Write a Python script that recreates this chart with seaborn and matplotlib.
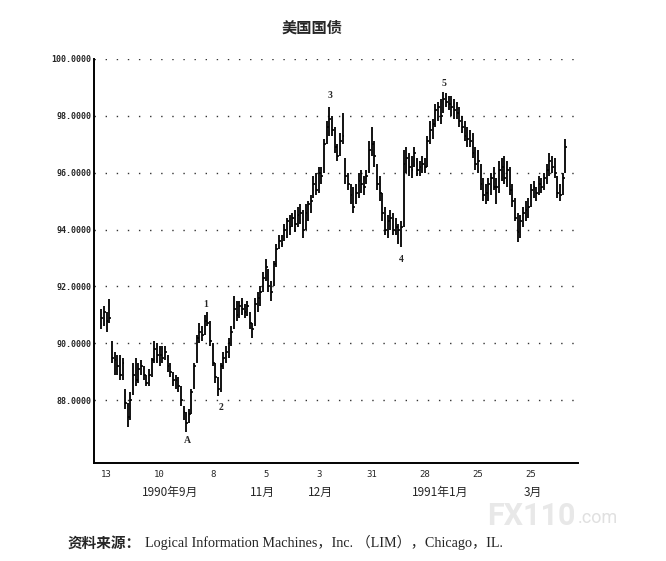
import numpy as np
import pandas as pd
import matplotlib
matplotlib.use("Agg")
import matplotlib.pyplot as plt
import matplotlib.transforms as mtransforms
import seaborn as sns

# daily bars, Aug 1990 - Apr 1991 (trading day index, 0 = Aug 13)
highs = [91.2, 91.3,
         91.1, 91.55, 90.1, 89.7, 89.6,
         89.6, 89.5, 88.4, 87.9, 88.3,
         89.3, 89.5, 89.3, 89.4, 89.2,
         88.9, 89.1, 89.5, 90.1, 90.0,
         89.9, 89.9, 89.9, 89.6, 89.3,
         89.0, 88.9, 88.8, 88.5, 87.8,
         87.6, 87.7, 88.4, 89.3, 90.3,
         90.7, 90.6, 91.0, 91.1, 90.8,
         90.0, 89.3, 88.8, 89.3, 89.7,
         89.9, 90.2, 90.6, 91.65, 91.5,
         91.5, 91.6, 91.4, 91.5, 91.1,
         90.7, 91.6, 91.8, 92.0, 92.5,
         92.95, 92.6, 92.2, 92.9, 93.5,
         93.8, 93.8, 94.2, 94.4, 94.5,
         94.6, 94.7, 94.8, 94.9, 94.7,
         94.9, 95.0, 95.2, 95.9, 96.0,
         96.2, 96.2, 97.2, 97.8, 98.3,
         98.0, 97.6, 97.0, 97.4, 98.1,
         96.5, 96.0, 95.6, 95.5, 95.6,
         96.0, 96.1, 95.9, 96.1, 97.1,
         97.6, 97.1, 96.3, 95.9, 95.3,
         94.8, 94.5, 94.7, 94.6, 94.4,
         94.2, 94.3, 96.8, 96.9, 96.7,
         96.6, 96.9, 96.5, 96.4, 96.6,
         96.5, 97.3, 97.8, 97.9, 98.4,
         98.5, 98.6, 98.85, 98.8, 98.7,
         98.7, 98.6, 98.5, 98.3, 98.0,
         97.8, 97.6, 97.5, 97.4, 96.9,
         96.8, 96.3, 95.8, 95.6, 95.8,
         96.0, 96.2, 95.8, 96.4, 96.5,
         96.6, 96.4, 96.2, 95.6, 95.1,
         94.6, 94.5, 94.8, 95.0, 95.1,
         95.6, 95.7, 95.5, 95.9, 95.8,
         96.0, 96.3, 96.7, 96.6, 96.5,
         95.9, 95.6, 96.0, 97.2]
lows = [90.5, 90.6,
        90.4, 90.7, 89.3, 88.9, 88.9,
        88.7, 88.7, 87.7, 87.05, 87.3,
        88.2, 88.5, 88.6, 88.9, 88.7,
        88.5, 88.5, 88.8, 89.3, 89.3,
        89.2, 89.3, 89.4, 89.0, 88.8,
        88.5, 88.4, 88.3, 87.8, 87.3,
        86.9, 87.2, 87.5, 88.4, 89.3,
        90.0, 90.1, 90.3, 90.6, 89.9,
        89.2, 88.6, 88.15, 88.3, 89.1,
        89.3, 89.5, 89.9, 90.5, 90.8,
        90.9, 91.0, 90.9, 90.95, 90.5,
        90.2, 90.6, 91.1, 91.3, 91.8,
        92.2, 91.8, 91.5, 92.0, 92.7,
        93.3, 93.4, 93.6, 93.7, 93.8,
        94.1, 93.9, 94.1, 94.2, 93.7,
        94.0, 94.3, 94.6, 95.1, 95.2,
        95.3, 95.6, 96.0, 97.0, 97.3,
        97.3, 96.7, 96.4, 96.6, 97.0,
        95.6, 95.4, 94.9, 94.6, 94.9,
        95.1, 95.3, 95.2, 95.6, 96.0,
        96.6, 96.2, 95.4, 95.0, 94.3,
        93.8, 93.7, 94.0, 93.8, 93.8,
        93.5, 93.4, 94.1, 96.0, 95.9,
        95.8, 96.2, 95.9, 95.9, 96.0,
        96.0, 96.2, 97.0, 97.2, 97.6,
        97.8, 97.7, 98.1, 98.3, 98.2,
        98.0, 97.9, 97.9, 97.6, 97.4,
        97.1, 96.9, 96.9, 96.5, 96.1,
        96.0, 95.4, 95.0, 94.9, 95.0,
        95.2, 95.4, 94.9, 95.3, 95.7,
        95.6, 95.5, 95.2, 94.8, 94.3,
        93.55, 93.7, 94.1, 94.3, 94.4,
        94.8, 95.1, 95.0, 95.2, 95.3,
        95.4, 95.6, 95.9, 96.0, 95.8,
        95.1, 95.0, 95.2, 96.0]
closes = [90.9, 91.1,
          90.8, 90.9, 89.5, 89.4, 89.2,
          88.9, 89.3, 87.9, 87.4, 88.0,
          88.9, 88.7, 89.1, 89.2, 88.9,
          88.6, 88.9, 89.4, 89.8, 89.6,
          89.6, 89.5, 89.7, 89.2, 89.0,
          88.7, 88.7, 88.5, 88.0, 87.6,
          87.2, 87.5, 88.3, 89.2, 90.2,
          90.4, 90.3, 90.8, 90.7, 90.1,
          89.3, 88.8, 88.4, 89.2, 89.5,
          89.7, 90.0, 90.4, 91.2, 91.0,
          91.3, 91.2, 91.1, 91.3, 90.7,
          90.5, 91.4, 91.6, 91.8, 92.3,
          92.7, 92.0, 91.8, 92.8, 93.3,
          93.6, 93.5, 94.0, 94.3, 94.1,
          94.4, 94.2, 94.5, 94.6, 94.0,
          94.6, 94.9, 95.0, 95.6, 95.4,
          96.0, 95.9, 97.0, 97.6, 97.9,
          97.5, 96.9, 96.6, 97.1, 97.3,
          95.9, 95.6, 95.2, 94.8, 95.3,
          95.7, 95.6, 95.5, 95.9, 96.8,
          97.0, 96.6, 95.6, 95.3, 94.6,
          94.0, 94.3, 94.4, 94.0, 94.1,
          94.0, 94.1, 96.3, 96.5, 96.2,
          96.1, 96.7, 96.1, 96.2, 96.3,
          96.2, 97.1, 97.5, 97.7, 98.2,
          98.3, 98.0, 98.6, 98.5, 98.4,
          98.3, 98.2, 98.1, 97.8, 97.6,
          97.3, 97.2, 97.1, 96.7, 96.3,
          96.4, 95.6, 95.2, 95.3, 95.6,
          95.8, 95.5, 95.5, 96.1, 96.2,
          95.8, 96.1, 95.4, 95.0, 94.4,
          93.9, 94.3, 94.6, 94.7, 94.8,
          95.4, 95.5, 95.3, 95.6, 95.5,
          95.8, 96.1, 96.4, 96.2, 96.0,
          95.3, 95.2, 95.8, 96.9]

tick_days = [0, 20, 40, 60, 80, 100, 120, 140, 160]
tick_labels = ["13", "10", "8", "5", "3", "31", "28", "25", "25"]
month_days = [23.9, 58.6, 80.5, 125.8, 160.9]
month_labels = ["1990年9月", "11月", "12月", "1991年1月", "3月"]
wave_days = [30.3, 37.5, 43.2, 84.3, 111.0, 127.3]
wave_values = [86.6, 91.35, 87.75, 98.7, 92.95, 99.15]
wave_labels = ["A", "1", "2", "3", "4", "5"]
y_ticks = [88, 90, 92, 94, 96, 98, 100]

df = pd.DataFrame({"high": highs, "low": lows, "close": closes})
df["day"] = np.arange(-2, -2 + len(df))

sns.set_style("white")
plt.rcParams['font.family'] = ['DejaVu Sans', 'Noto Sans CJK SC']

fig = plt.figure(figsize=(6.66, 5.61), dpi=100)
ax = fig.add_axes([0.141, 0.175, 0.727, 0.72])

ax.vlines(df["day"], df["low"], df["high"], color="black", linewidth=1.3)
ax.hlines(df["close"], df["day"], df["day"] + 0.7, color="black", linewidth=1.2)

ax.set_xlim(-4.8, 177.8)
ax.set_ylim(85.8, 100.0)
for v in y_ticks:
    ax.axhline(v, color="#333333", linewidth=1.0, linestyle=(0, (1, 7)), zorder=0)

ax.set_yticks(y_ticks)
ax.set_yticklabels([f"{v:.4f}" for v in y_ticks], family="DejaVu Sans Mono",
                   fontsize=6, fontweight="bold")
ax.set_xticks(np.arange(0, 171, 10))
lbls = [""] * 18
for d, t in zip(tick_days, tick_labels):
    lbls[d // 10] = t
ax.set_xticklabels(lbls, family="DejaVu Sans Mono", fontsize=6.5)
ax.tick_params(axis="x", direction="in", length=3, width=1, pad=5)
ax.tick_params(axis="y", direction="in", length=3, width=1, pad=2)

sns.despine(ax=ax)
ax.spines["left"].set_linewidth(1.4)
ax.spines["bottom"].set_linewidth(1.4)
ax.spines["left"].set_color("black")
ax.spines["bottom"].set_color("black")

trans = mtransforms.blended_transform_factory(ax.transData, ax.transAxes)
for d, t in zip(month_days, month_labels):
    ax.text(d, -0.073, t, transform=trans, ha="center", va="center",
            fontsize=8.5, family=["Noto Sans CJK SC", "DejaVu Sans"])

for d, v, t in zip(wave_days, wave_values, wave_labels):
    ax.text(d, v, t, ha="center", va="center", fontsize=7,
            fontweight="bold", family="Liberation Serif")

fig.text(0.468, 0.95, "美国国债", ha="center", va="center", fontsize=11,
         fontweight="bold", family=["Noto Sans CJK SC", "DejaVu Sans"])
fig.text(0.102, 0.033, "资料来源：", ha="left", va="center", fontsize=10.5,
         fontweight="bold", family=["Noto Sans CJK SC", "DejaVu Sans"])
fig.text(0.218, 0.033, "Logical Information Machines，Inc. （LIM），Chicago，IL.",
         ha="left", va="center", fontsize=10.2,
         family=["Liberation Serif", "Noto Sans CJK SC"])
fig.text(0.731, 0.081, "FX110", ha="left", va="center", fontsize=22,
         fontweight="bold", color="#e8e8e8", family="Roboto", zorder=0)
fig.text(0.868, 0.077, ".com", ha="left", va="center", fontsize=13,
         color="#e0e0e0", family="Roboto", zorder=0)

fig.savefig("out.png", dpi=100)
